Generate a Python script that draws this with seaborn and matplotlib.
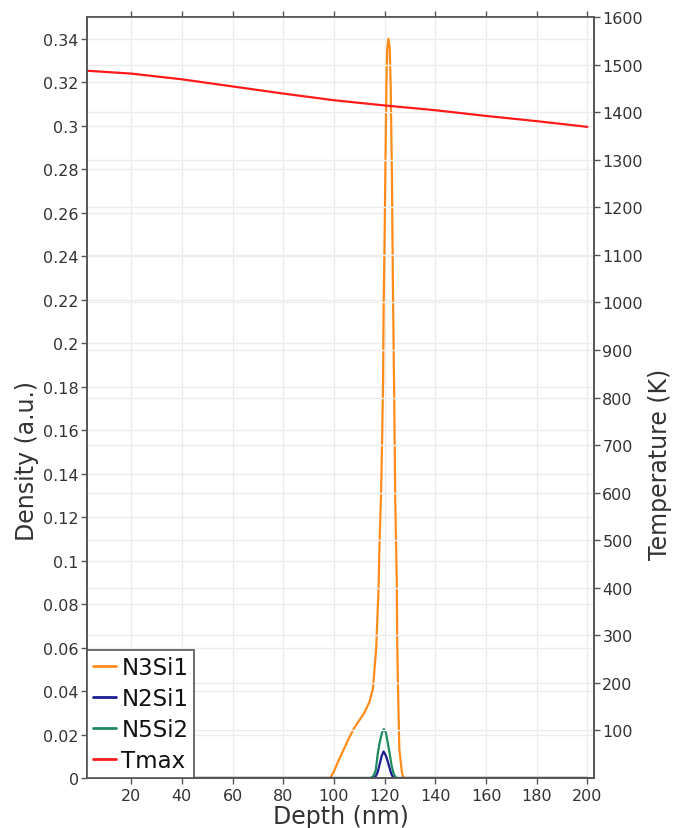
import matplotlib
matplotlib.use("Agg")
import matplotlib.pyplot as plt
from matplotlib.lines import Line2D
import seaborn as sns
import pandas as pd

# Density profiles (a.u.) vs depth (nm)
depth_n3si1 = [0, 98.5, 100, 102, 104, 106, 108, 110, 112, 114, 115.4, 116.7,
               117.6, 118.0, 118.6, 119.0, 119.4, 119.6, 120.0, 120.3, 120.7,
               121.0, 121.5, 122.0, 122.4, 122.9, 123.3, 123.8, 124.2, 124.8,
               125.0, 125.3, 125.8, 126.9, 127.5, 200]
n3si1 = [0, 0, 0.003, 0.0085, 0.0135, 0.0185, 0.023, 0.0265, 0.030, 0.035,
         0.041, 0.060, 0.087, 0.1085, 0.130, 0.1545, 0.183, 0.2156, 0.2487,
         0.280, 0.319, 0.335, 0.340, 0.336, 0.318, 0.2754, 0.2239, 0.1733,
         0.1283, 0.0901, 0.0593, 0.041, 0.0133, 0.002, 0, 0]

depth_n2si1 = [0, 115.5, 116.5, 117.3, 118.0, 118.8, 119.6, 120.4, 121.0,
               121.6, 122.4, 123.0, 123.8, 200]
n2si1 = [0, 0, 0.0008, 0.0028, 0.0061, 0.010, 0.0122, 0.0105, 0.0085,
         0.0061, 0.0028, 0.0010, 0, 0]

depth_n5si2 = [0, 114.5, 115.5, 116.5, 117.3, 118.0, 119.0, 119.7, 120.5,
               121.2, 122.0, 122.8, 123.6, 124.6, 200]
n5si2 = [0, 0, 0.0008, 0.0035, 0.0112, 0.016, 0.021, 0.0225, 0.021, 0.0165,
         0.0112, 0.0055, 0.0018, 0, 0]

# Peak temperature (K) vs depth (nm)
depth_tmax = [2.6, 20, 40, 60, 80, 100, 120, 140, 160, 180, 200]
tmax = [1487, 1481, 1469, 1454, 1439, 1425, 1414, 1404, 1392, 1381, 1369]

species = ["N3Si1", "N2Si1", "N5Si2"]
colors = {"N3Si1": "#ff8c1a", "N2Si1": "#1c1c94", "N5Si2": "#1f8a5e"}
tmax_color = "#ff1a1a"

x_ticks = list(range(20, 201, 20))
density_ticks = [i / 100 for i in range(0, 35, 2)]
temp_ticks = list(range(100, 1601, 100))

frames = []
for name, xs, ys in [("N3Si1", depth_n3si1, n3si1),
                     ("N2Si1", depth_n2si1, n2si1),
                     ("N5Si2", depth_n5si2, n5si2)]:
    frames.append(pd.DataFrame({"Depth": xs, "Density": ys, "Species": name}))
density_df = pd.concat(frames, ignore_index=True)
tmax_df = pd.DataFrame({"Depth": depth_tmax, "Tmax": tmax})

sns.set_style("white")
plt.rcParams["font.family"] = ["DejaVu Sans"]
text_color = "#333333"
spine_color = "#555555"
grid_color = "#ececec"

fig = plt.figure(figsize=(6.73, 8.29), dpi=100)
ax = fig.add_axes([0.1293, 0.0603, 0.7533, 0.918])

sns.lineplot(data=density_df, x="Depth", y="Density", hue="Species",
             hue_order=species, palette=colors, estimator=None, sort=False,
             linewidth=1.6, legend=False, ax=ax)

ax2 = ax.twinx()
sns.lineplot(data=tmax_df, x="Depth", y="Tmax", color=tmax_color,
             estimator=None, linewidth=1.6, legend=False, ax=ax2)

ax.set_xlim(2.6, 202.6)
ax.set_ylim(0, 0.35)
ax2.set_ylim(0, 1600)

ax.set_xticks(x_ticks)
ax.set_xticklabels([str(v) for v in x_ticks])
ax.set_yticks(density_ticks)
ax.set_yticklabels([f"{v:g}" for v in density_ticks])
ax2.set_yticks(temp_ticks)
ax2.set_yticklabels([str(v) for v in temp_ticks])

for a in (ax, ax2):
    for s in a.spines.values():
        s.set_color(spine_color)
        s.set_linewidth(1.2)
        s.set_visible(True)
    a.set_axisbelow(True)

ax.grid(True, color=grid_color, linewidth=1.0)
ax2.grid(True, axis="y", color=grid_color, linewidth=1.0)
ax2.set_zorder(ax.get_zorder() + 1)

ax.tick_params(axis="both", which="major", direction="out", length=4,
               width=1.0, color=spine_color, labelsize=11.5,
               labelcolor=text_color, pad=2, top=True, left=True, bottom=True)
ax.tick_params(axis="x", pad=3)
ax2.tick_params(axis="y", direction="out", length=4, width=1.0,
                color=spine_color, labelsize=11.5, labelcolor=text_color, pad=2)

ax.set_xlabel("Depth (nm)", fontsize=17, color=text_color)
ax.set_ylabel("Density (a.u.)", fontsize=17, color=text_color)
ax2.set_ylabel("Temperature (K)", fontsize=17, color=text_color)
ax.xaxis.label.set_verticalalignment("center")
ax.xaxis.set_label_coords(0.5, -0.05)
ax.yaxis.label.set_verticalalignment("center")
ax.yaxis.set_label_coords(-0.118, 0.418)
ax2.yaxis.label.set_verticalalignment("center")
ax2.yaxis.set_label_coords(1.13, 0.414)

handles = [Line2D([], [], color=colors[n], linewidth=2) for n in species]
handles.append(Line2D([], [], color=tmax_color, linewidth=2))
leg = ax2.legend(handles, species + ["Tmax"], loc="lower left",
                 bbox_to_anchor=(0, 0), borderaxespad=0, frameon=True,
                 fancybox=False, edgecolor=spine_color, fontsize=16.5,
                 handlelength=1.0, handletextpad=0.25, borderpad=0.25,
                 labelspacing=0.36)
leg.get_frame().set_linewidth(1.2)
leg.get_frame().set_facecolor("white")
leg.get_frame().set_alpha(1.0)
for t in leg.get_texts():
    t.set_color("#111111")

fig.savefig("out.png", dpi=100, facecolor="white")
